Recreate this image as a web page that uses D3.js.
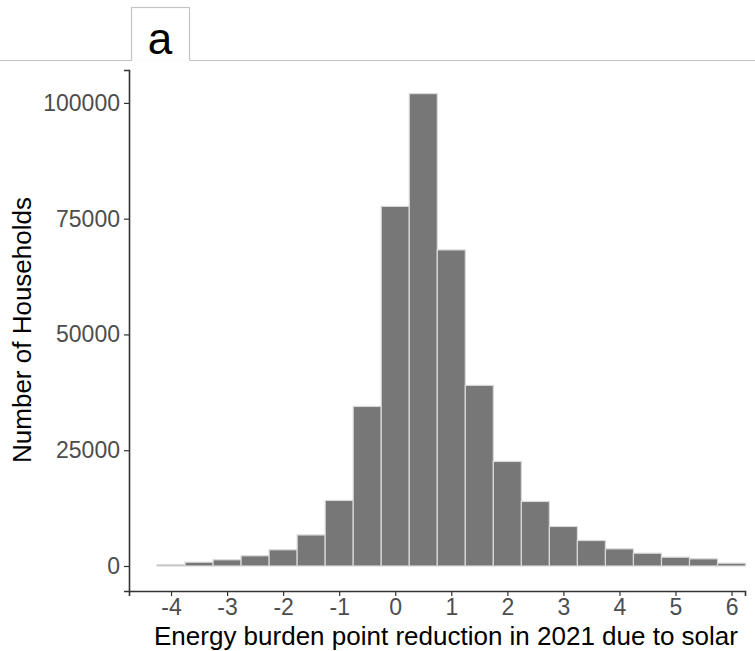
<!DOCTYPE html>
<html>
<head>
<meta charset="utf-8">
<script src="https://cdn.jsdelivr.net/npm/d3@7"></script>
<style>
  body { margin: 0; background: #fff; }
  svg { display: block; font-family: "Liberation Sans", Arial, sans-serif; }
</style>
</head>
<body>
<script>
// bin centres (width 0.5) and household counts
const binCentres = [-4, -3.5, -3, -2.5, -2, -1.5, -1, -0.5, 0, 0.5, 1, 1.5, 2, 2.5, 3, 3.5, 4, 4.5, 5, 5.5, 6];
const counts = [300, 820, 1340, 2200, 3500, 6700, 14150, 34450, 77650, 102000, 68250, 39000, 22570, 13930, 8530, 5500, 3700, 2760, 1900, 1550, 600];
const xTicks = [-4, -3, -2, -1, 0, 1, 2, 3, 4, 5, 6];
const yTicks = [0, 25000, 50000, 75000, 100000];
const binWidth = 0.5;

const width = 755, height = 651;
const svg = d3.select("body").append("svg")
  .attr("width", width)
  .attr("height", height);

// facet strip "a"
svg.append("line")
  .attr("x1", 0).attr("x2", width)
  .attr("y1", 60.5).attr("y2", 60.5)
  .attr("stroke", "#c4c4c4").attr("stroke-width", 1.2);
svg.append("rect")
  .attr("x", 131.5).attr("y", 7.5)
  .attr("width", 58).attr("height", 53)
  .attr("fill", "#fff")
  .attr("stroke", "#c4c4c4").attr("stroke-width", 1.2);
svg.append("line")
  .attr("x1", 132).attr("x2", 189)
  .attr("y1", 60.5).attr("y2", 60.5)
  .attr("stroke", "#fff").attr("stroke-width", 2);
svg.append("text")
  .attr("x", 160).attr("y", 54)
  .attr("text-anchor", "middle")
  .attr("font-size", 44)
  .attr("fill", "#000")
  .text("a");

const x = d3.scaleLinear().domain([-4.75, 6.24]).range([129, 745]);
const y = d3.scaleLinear().domain([-5400, 107100]).range([591, 70]);

// bars
svg.append("g")
  .selectAll("rect")
  .data(binCentres)
  .enter()
  .append("rect")
  .attr("x", d => x(d - binWidth / 2))
  .attr("width", d => x(d + binWidth / 2) - x(d - binWidth / 2))
  .attr("y", (d, i) => y(counts[i]))
  .attr("height", (d, i) => y(0) - y(counts[i]))
  .attr("fill", "#777777")
  .attr("stroke", "#d9d9d9")
  .attr("stroke-width", 1.2);

// axes
const xAxis = svg.append("g")
  .attr("transform", "translate(0," + 591 + ")")
  .call(d3.axisBottom(x).tickValues(xTicks).tickSize(5).tickPadding(3).tickFormat(d3.format("d")));
const yAxis = svg.append("g")
  .attr("transform", "translate(" + 129 + ",0)")
  .call(d3.axisLeft(y).tickValues(yTicks).tickSize(5).tickPadding(4).tickFormat(d3.format("d")));

[xAxis, yAxis].forEach(g => {
  g.select(".domain").attr("stroke", "#333").attr("stroke-width", 1.6);
  g.selectAll(".tick line").attr("stroke", "#333").attr("stroke-width", 1.2);
  g.selectAll(".tick text")
    .attr("fill", "#4d4d4d")
    .attr("font-size", 23)
    .attr("font-family", "Liberation Sans, Arial, sans-serif");
});
xAxis.selectAll(".tick text").text(d => String(d));

// axis titles
svg.append("text")
  .attr("x", 446).attr("y", 645)
  .attr("text-anchor", "middle")
  .attr("font-size", 26)
  .attr("fill", "#000")
  .text("Energy burden point reduction in 2021 due to solar");

svg.append("text")
  .attr("transform", "translate(31," + 330 + ") rotate(-90)")
  .attr("text-anchor", "middle")
  .attr("font-size", 26)
  .attr("fill", "#000")
  .text("Number of Households");
</script>
</body>
</html>
